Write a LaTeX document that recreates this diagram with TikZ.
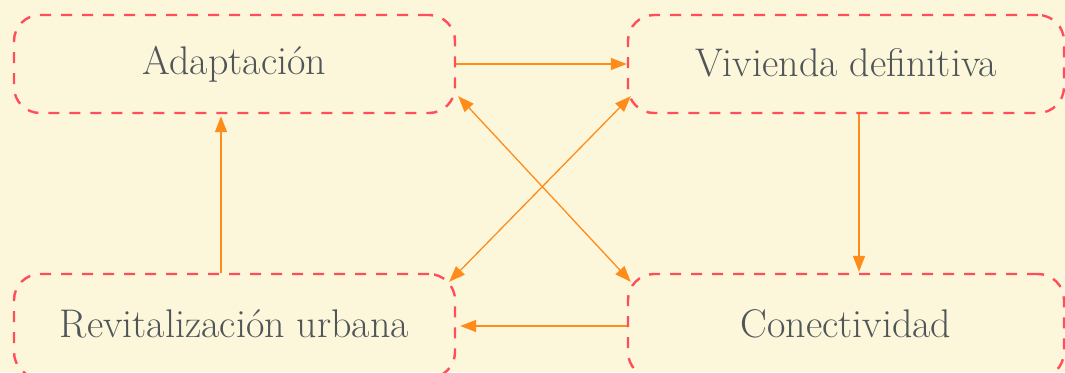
\documentclass[tikz,border=0pt]{standalone}
\usetikzlibrary{arrows.meta,calc}
\definecolor{bgc}{HTML}{FCF7DB}
\definecolor{boxc}{HTML}{FF4D5A}
\definecolor{arrc}{HTML}{FF8C1A}
\definecolor{txtc}{HTML}{4F5558}
\newcommand{\uplbl}[1]{\raisebox{4pt}{#1}}
\begin{document}
\begin{tikzpicture}[x=1pt,y=-1pt,
  stepbox/.style={draw=boxc,line width=2.4pt,dash pattern=on 11pt off 10pt,rounded corners=26pt,
    minimum height=98pt,inner sep=0pt,text=txtc,font=\fontsize{40}{46}\selectfont},
  conn/.style={draw=arrc,line width=1.5pt,-{Triangle[length=16pt,width=12pt]}},
  dconn/.style={draw=arrc,line width=1.3pt,{Triangle[length=16pt,width=12pt]}-{Triangle[length=16pt,width=12pt]}}]
\fill[bgc] (0,0) rectangle (1065,372);
\useasboundingbox (0,0) rectangle (1065,372);
\node[stepbox,minimum width=441pt] (A) at (234.5,64) {\uplbl{Adaptación}};
\node[stepbox,minimum width=436pt] (V) at (846,64) {\uplbl{Vivienda definitiva}};
\node[stepbox,minimum width=441pt,minimum height=104pt] (R) at (234.5,326) {\uplbl{Revitalización urbana}};
\node[stepbox,minimum width=436pt,minimum height=104pt] (C) at (846,326) {\uplbl{Conectividad}};
\draw[conn] (A.east) -- (V.west);
\draw[conn] (C.west) -- ($(R.east)+(4,0)$);
\draw[conn] (V.south -| 859,0) -- ($(C.north -| 859,0)+(0,-1)$);
\draw[conn] (R.north -| 221,0) -- ($(A.south -| 221,0)+(0,2)$);
\draw[dconn] ($(A.south east)+(2,-18)$) -- ($(C.north west)+(4,9)$);
\draw[dconn] ($(V.south west)+(4,-18)$) -- ($(R.north east)+(-7,9)$);
\end{tikzpicture}
\end{document}
